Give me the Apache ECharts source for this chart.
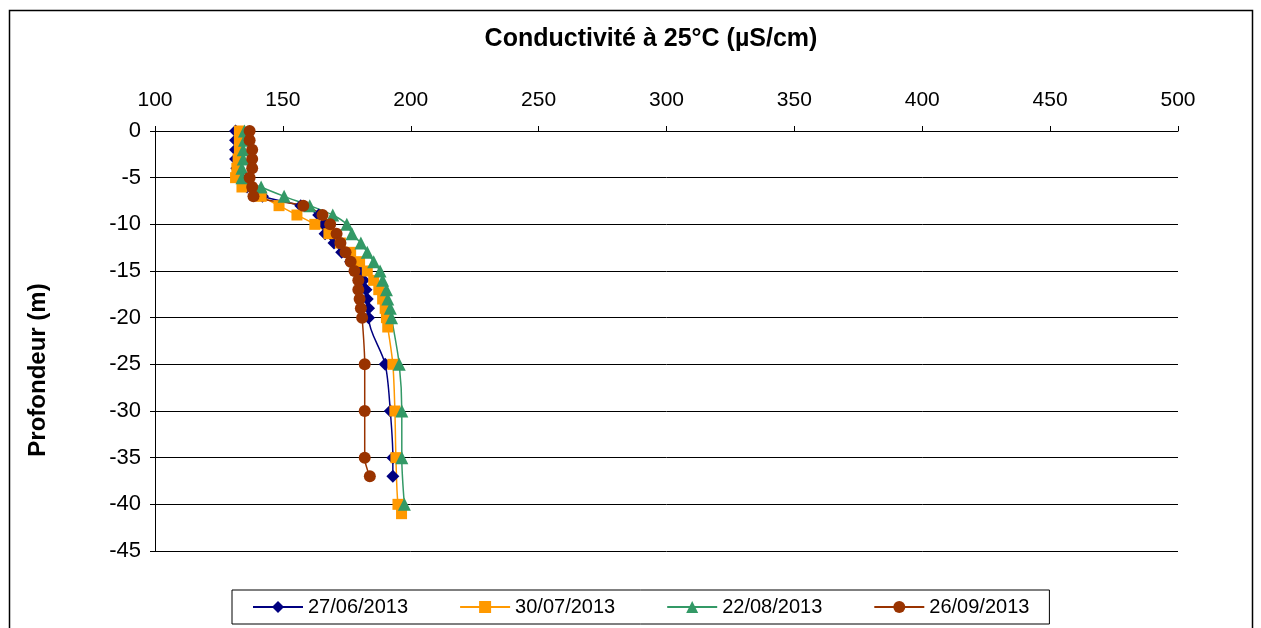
<!DOCTYPE html>
<html>
<head>
<meta charset="utf-8">
<script src="https://cdn.jsdelivr.net/npm/echarts@6/dist/echarts.min.js"></script>
<style>
  html, body { margin: 0; padding: 0; background: #fff; }
  #chart { width: 1261px; height: 628px; }
</style>
</head>
<body>
<div id="chart"></div>
<script>
// Conductivity profiles (µS/cm at 25 °C) versus depth (m), four sampling dates
const seriesNames = ['27/06/2013', '30/07/2013', '22/08/2013', '26/09/2013'];

const depth0627 = [0,-1,-2,-3,-4,-5,-6,-7,-8,-9,-10,-11,-12,-13,-14,-15,-16,-17,-18,-19,-20,-25,-30,-35,-37];
const cond0627  = [131.5,131.5,131.5,131.5,132,133.5,136,142,157,164,166,166.5,170,173,176.5,180,181.5,182.5,183,183.5,183.5,190,192,193,193];

const depth0730 = [0,-1,-2,-3,-4,-5,-6,-7,-8,-9,-10,-11,-12,-13,-14,-15,-16,-17,-18,-19,-20,-21,-25,-30,-35,-40,-41];
const cond0730  = [133,133,133,132.5,132,131.5,134,141.5,148.5,155.5,162.5,168,172.5,176.5,180,183,185.5,187.5,189,190,190.5,191,193,193.8,194.2,195,196.4];

const depth0822 = [0,-1,-2,-3,-4,-5,-6,-7,-8,-9,-10,-11,-12,-13,-14,-15,-16,-17,-18,-19,-20,-25,-30,-35,-40];
const cond0822  = [135,135,134.5,134.5,134,134,141.5,150.5,160.5,169.5,175,177,180.5,183,185.5,188,189,190.5,191,192,192.5,195.5,196.5,196.5,197.5];

const depth0926 = [0,-1,-2,-3,-4,-5,-6,-7,-8,-9,-10,-11,-12,-13,-14,-15,-16,-17,-18,-19,-20,-25,-30,-35,-37];
const cond0926  = [137,137,138,138,138,137,138,138.5,158,165.5,168.5,171,172.5,174.5,176.5,178,179.5,179.5,180,180.5,181,182,182,182,184];

const xTicks = { min: 100, max: 500, step: 50 };
const yTicks = { min: -45, max: 0, step: 5 };

function pairs(xs, ys) {
  return xs.map((x, i) => [x, ys[i]]);
}

const FONT = '"Liberation Sans", Arial, sans-serif';

const styles = [
  { color: '#000080', symbol: 'diamond', size: 13 },
  { color: '#FF9900', symbol: 'rect', size: 11 },
  { color: '#339966', symbol: 'triangle', size: 13 },
  { color: '#993300', symbol: 'circle', size: 12 }
];

const profiles = [
  pairs(cond0627, depth0627),
  pairs(cond0730, depth0730),
  pairs(cond0822, depth0822),
  pairs(cond0926, depth0926)
];

const chart = echarts.init(document.getElementById('chart'), null, { renderer: 'canvas' });

chart.setOption({
  backgroundColor: '#ffffff',
  animation: false,
  title: {
    text: 'Conductivité à 25°C (µS/cm)',
    left: 646,
    textAlign: 'center',
    top: 22,
    textStyle: { fontFamily: FONT, fontSize: 25, fontWeight: 'bold', color: '#000' }
  },
  grid: { left: 155, right: 83, top: 131, bottom: 77, containLabel: false },
  xAxis: {
    type: 'value',
    position: 'top',
    min: xTicks.min, max: xTicks.max, interval: xTicks.step,
    axisLine: { show: true, lineStyle: { color: '#000', width: 1 } },
    axisTick: { show: true, inside: false, length: 5, lineStyle: { color: '#000' } },
    axisLabel: { margin: 20, fontFamily: FONT, fontSize: 21, color: '#000' },
    splitLine: { show: false }
  },
  yAxis: {
    type: 'value',
    min: yTicks.min, max: yTicks.max, interval: yTicks.step,
    axisLine: { show: true, onZero: false, lineStyle: { color: '#000', width: 1 } },
    axisTick: { show: true, inside: false, length: 5, lineStyle: { color: '#000' } },
    axisLabel: { margin: 14, fontFamily: FONT, fontSize: 22, color: '#000' },
    splitLine: { show: true, lineStyle: { color: '#000', width: 1 } }
  },
  legend: {
    left: 232,
    top: 590,
    orient: 'horizontal',
    padding: [7, 20, 7, 20],
    itemGap: 51,
    itemWidth: 50,
    itemHeight: 15,
    borderColor: '#000',
    borderWidth: 1,
    textStyle: { fontFamily: FONT, fontSize: 20, color: '#000' },
    data: seriesNames
  },
  graphic: [
    {
      type: 'rect',
      shape: { x: 9.5, y: 10.5, width: 1243, height: 640 },
      style: { fill: 'none', stroke: '#000', lineWidth: 1.5 },
      silent: true
    },
    {
      type: 'text',
      x: 38,
      y: 370,
      rotation: Math.PI / 2,
      style: {
        text: 'Profondeur (m)',
        fontFamily: FONT,
        fontSize: 24,
        fontWeight: 'bold',
        fill: '#000',
        align: 'center',
        verticalAlign: 'middle'
      }
    }
  ],
  series: profiles.map((data, i) => ({
    name: seriesNames[i],
    type: 'line',
    data: data,
    smooth: 0.3,
    symbol: styles[i].symbol,
    symbolSize: styles[i].size,
    showAllSymbol: true,
    itemStyle: { color: styles[i].color },
    lineStyle: { color: styles[i].color, width: 1.5 },
    emphasis: { disabled: true }
  }))
});
</script>
</body>
</html>
